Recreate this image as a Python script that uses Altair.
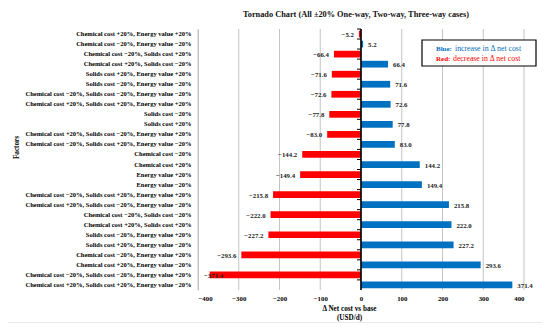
import altair as alt
import pandas as pd

factors = [
    "Chemical cost +20%, Energy value +20%",
    "Chemical cost −20%, Energy value −20%",
    "Chemical cost −20%, Solids cost +20%",
    "Chemical cost +20%, Solids cost −20%",
    "Solids cost +20%, Energy value +20%",
    "Solids cost −20%, Energy value −20%",
    "Chemical cost −20%, Solids cost −20%, Energy value −20%",
    "Chemical cost +20%, Solids cost +20%, Energy value +20%",
    "Solids cost −20%",
    "Solids cost +20%",
    "Chemical cost +20%, Solids cost −20%, Energy value +20%",
    "Chemical cost −20%, Solids cost +20%, Energy value −20%",
    "Chemical cost −20%",
    "Chemical cost +20%",
    "Energy value +20%",
    "Energy value −20%",
    "Chemical cost −20%, Solids cost +20%, Energy value +20%",
    "Chemical cost +20%, Solids cost −20%, Energy value −20%",
    "Chemical cost −20%, Solids cost −20%",
    "Chemical cost +20%, Solids cost +20%",
    "Solids cost −20%, Energy value +20%",
    "Solids cost +20%, Energy value −20%",
    "Chemical cost −20%, Energy value +20%",
    "Chemical cost +20%, Energy value −20%",
    "Chemical cost −20%, Solids cost −20%, Energy value +20%",
    "Chemical cost +20%, Solids cost +20%, Energy value −20%",
]
values = [-5.2, 5.2, -66.4, 66.4, -71.6, 71.6, -72.6, 72.6, -77.8, 77.8,
          -83.0, 83.0, -144.2, 144.2, -149.4, 149.4, -215.8, 215.8,
          -222.0, 222.0, -227.2, 227.2, -293.6, 293.6, -371.4, 371.4]
x_ticks = [-400, -300, -200, -100, 0, 100, 200, 300, 400]
title_text = "Tornado Chart (All ±20% One-way, Two-way, Three-way cases)"

df = pd.DataFrame({"factor": factors, "value": values})
df["label"] = df["value"].map(lambda v: f"{v:.1f}".replace("-", "−"))
grid_df = pd.DataFrame({"t": x_ticks})

FONT = "Liberation Serif"
BLUE = "#0070C0"
RED = "#FF0000"

W, H = 326, 261

xscale = alt.Scale(domain=[-400, 400], nice=False, zero=False)
yscale = alt.Scale(domain=factors, paddingInner=0.33, paddingOuter=0.17)

base = alt.Chart(df)
leg_df = pd.DataFrame({"k": [0]})

frame = alt.Chart(leg_df).mark_rect(fill="white", fillOpacity=0,
                                    stroke="#E2E2E2", strokeWidth=1.5).encode(
    x=alt.value(-194.5), x2=alt.value(347), y=alt.value(-24.5),
    y2=alt.value(294))

title = alt.Chart(leg_df).mark_text(align="center", baseline="middle",
                                    font=FONT, fontSize=8.3,
                                    fontWeight="bold", color="#111111",
                                    text=title_text).encode(
    x=alt.value(158), y=alt.value(-14))

grid = alt.Chart(grid_df).mark_tick(color="#C4C4C4", thickness=1, size=H,
                                    opacity=1).encode(
    x=alt.X("t:Q", scale=xscale,
            axis=alt.Axis(values=x_ticks, grid=False, domain=False,
                          ticks=False, labelFont=FONT, labelFontSize=6.8,
                          labelFontWeight="bold", labelPadding=5, format="d",
                          labelExpr="replace(datum.label, '-', '−')",
                          title=["Δ Net cost vs base", "(USD/d)"],
                          titleFont=FONT, titleFontSize=7.2,
                          titleFontWeight="bold", titleX=151, titleY=14,
                          titleLineHeight=9)),
    y=alt.value(H / 2),
)

bars = base.mark_bar().encode(
    x=alt.X("value:Q", scale=xscale),
    y=alt.Y("factor:N", sort=factors, scale=yscale,
            axis=alt.Axis(title="Factors", titleFont=FONT, titleFontSize=7.2,
                          titleFontWeight="bold", titleX=-178, titleY=118,
                          labelFont=FONT, labelFontSize=6.5,
                          labelFontWeight="bold", labelPadding=7,
                          ticks=False, domainColor="#BFBFBF",
                          labelLimit=400)),
    color=alt.condition(alt.datum.value < 0, alt.value(RED), alt.value(BLUE)),
)

zero_line = alt.Chart(grid_df).transform_filter(alt.datum.t == 0).mark_tick(
    color="black", thickness=1.6, size=H, opacity=1).encode(
    x=alt.X("t:Q", scale=xscale), y=alt.value(H / 2))

zero_ticks = base.mark_tick(orient="horizontal", color="black", thickness=1,
                            size=4, opacity=1, yOffset=-1.7, xOffset=-2).encode(
    x=alt.datum(0),
    y=alt.Y("factor:N", sort=factors, scale=yscale, bandPosition=0),
)

neg_text = base.transform_filter(alt.datum.value < 0).transform_calculate(
    lx="max(datum.value, -326)"
).mark_text(align="right", baseline="middle", dx=-5, dy=1, font=FONT,
            fontSize=6.8, fontWeight="bold", color="#222222").encode(
    x=alt.X("lx:Q", scale=xscale),
    y=alt.Y("factor:N", sort=factors, scale=yscale),
    text="label:N",
)

pos_text = base.transform_filter(alt.datum.value > 0).mark_text(
    align="left", baseline="middle", dx=5, dy=1, font=FONT, fontSize=6.8,
    fontWeight="bold", color="#222222").encode(
    x=alt.X("value:Q", scale=xscale),
    y=alt.Y("factor:N", sort=factors, scale=yscale),
    text="label:N",
)

legend_box = alt.Chart(leg_df).mark_rect(
    fill="white", stroke="black", strokeWidth=1.2).encode(
    x=alt.value(224), x2=alt.value(338), y=alt.value(11), y2=alt.value(37))

leg1a = alt.Chart(leg_df).mark_text(align="left", baseline="middle", font=FONT,
                                    fontSize=7, fontWeight="bold",
                                    color=BLUE, text="Blue:").encode(
    x=alt.value(238), y=alt.value(19.5))
leg1b = alt.Chart(leg_df).mark_text(align="left", baseline="middle", font=FONT,
                                    fontSize=7.8, color=BLUE,
                                    text="increase in Δ net cost").encode(
    x=alt.value(257), y=alt.value(19.5))
leg2a = alt.Chart(leg_df).mark_text(align="left", baseline="middle", font=FONT,
                                    fontSize=7, fontWeight="bold",
                                    color=RED, text="Red:").encode(
    x=alt.value(238), y=alt.value(30))
leg2b = alt.Chart(leg_df).mark_text(align="left", baseline="middle", font=FONT,
                                    fontSize=7.8, color=RED,
                                    text="decrease in Δ net cost").encode(
    x=alt.value(255), y=alt.value(30))

chart = alt.layer(
    frame, title, grid, bars, zero_line, zero_ticks, neg_text, pos_text,
    legend_box, leg1a, leg1b, leg2a, leg2b
).properties(
    width=W, height=H,
    background="white",
    autosize=alt.AutoSizeParams(type="none"),
    padding={"left": 190, "top": 21, "right": 18, "bottom": 33},
).configure_view(stroke=None)

chart.save("out.html", embed_options={"renderer": "svg", "actions": False})
